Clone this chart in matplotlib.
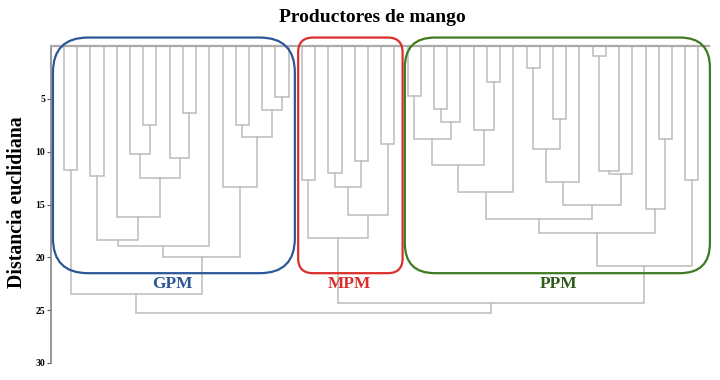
import matplotlib
matplotlib.use("Agg")
import matplotlib.pyplot as plt
from matplotlib.patches import FancyBboxPatch

plt.rcParams['font.family'] = ['Liberation Serif', 'DejaVu Serif']

# Leaves: GPM 0-17, MPM 18-25, PPM 26-48 ; merged nodes get ids 49, 50, ...
n_leaves = 49

link_left = [0, 2, 6, 5, 9, 8, 52, 4, 50, 57, 16, 15, 13, 61, 12, 58, 49,
             18, 20, 22, 67, 24, 69, 66,
             26, 28, 74, 73, 32, 31, 76, 79, 35, 37, 81, 83, 40, 85, 86, 84,
             80, 45, 44, 89, 47, 92, 72, 65]
link_right = [1, 3, 7, 51, 10, 53, 54, 55, 56, 11, 17, 59, 14, 60, 62, 63, 64,
              19, 21, 23, 68, 25, 70, 71,
              27, 29, 30, 75, 33, 77, 78, 34, 36, 38, 82, 39, 41, 42, 43, 87,
              88, 46, 90, 91, 48, 93, 94, 95]
link_height = [11.7, 12.3, 7.45, 10.2, 6.35, 10.6, 12.45, 16.2, 18.4, 18.9,
               4.83, 6.03, 7.5, 8.6, 13.3, 20.0, 23.5,
               12.7, 12.0, 10.9, 13.3, 9.26, 16.0, 18.2,
               4.7, 5.97, 7.23, 8.78, 3.4, 7.93, 11.25, 13.8, 2.07, 6.9, 9.76,
               12.9, 0.97, 11.85, 12.1, 15.0, 16.4, 8.78, 15.4, 17.7, 12.7,
               20.8, 24.3, 25.3]

# Group boxes (leaf span, bottom distance, corner size) and labels
groups = ["GPM", "MPM", "PPM"]
group_colors = ["#2b5797", "#d9302c", "#3f7a22"]
label_colors = ["#2b5797", "#d9302c", "#2e5a1a"]
box_x0 = [-0.83, 17.72, 25.79]
box_x1 = [17.47, 25.62, 48.87]
box_top = -0.8
box_bottom = 21.5
box_round = [2.65, 1.13, 2.27]
label_x = [8.2, 21.6, 37.4]
label_y = 22.5

yticks = [5, 10, 15, 20, 25, 30]

line_col = "#bcbcbc"

fig = plt.figure(figsize=(7.2, 3.8), dpi=100)
ax = fig.add_axes([50.7 / 720, 1 - 363 / 380, (709 - 50.7) / 720, 317 / 380])

xpos = {i: float(i) for i in range(n_leaves)}
hgt = {i: 0.0 for i in range(n_leaves)}
for k, (a, b, h) in enumerate(zip(link_left, link_right, link_height)):
    ax.plot([xpos[a], xpos[a], xpos[b], xpos[b]], [hgt[a], h, h, hgt[b]],
            color=line_col, lw=1.1, solid_joinstyle="miter", clip_on=False)
    node = n_leaves + k
    xpos[node] = (xpos[a] + xpos[b]) / 2
    hgt[node] = h

ax.set_xlim(-1.0, 48.8)
ax.set_ylim(30, 0)
ax.set_xticks([])
ax.set_yticks(yticks)
ax.set_yticklabels([str(t) for t in yticks], fontsize=7, fontweight="bold")
ax.tick_params(axis="y", length=3, width=0.8, color="#555555", pad=1)
for s in ["right", "bottom"]:
    ax.spines[s].set_visible(False)
ax.spines["top"].set_color("#aaaaaa")
ax.spines["top"].set_linewidth(1.6)
ax.spines["left"].set_color("#888888")
ax.spines["left"].set_linewidth(1.2)

# px per unit ratio so that corners look round
aspect = (658.3 / 49.8) / (317 / 30)
for x0, x1, r, c in zip(box_x0, box_x1, box_round, group_colors):
    box = FancyBboxPatch((x0, box_top), x1 - x0, box_bottom - box_top,
                         boxstyle=f"round,pad=0,rounding_size={r}",
                         mutation_aspect=aspect, fill=False,
                         edgecolor=c, lw=1.6, clip_on=False, zorder=3)
    ax.add_patch(box)

for g, x, c in zip(groups, label_x, label_colors):
    ax.text(x, label_y, g, color=c, fontsize=12.5, fontweight="bold",
            ha="center", va="center")

fig.text(0.517, 1 - 17 / 380, "Productores de mango", fontsize=14,
         fontweight="bold", ha="center", va="center")
fig.text(17.5 / 720, 1 - 202 / 380, "Distancia euclidiana", fontsize=14.3,
         fontweight="bold", ha="center", va="center", rotation=90)

fig.savefig("out.png", dpi=100)
